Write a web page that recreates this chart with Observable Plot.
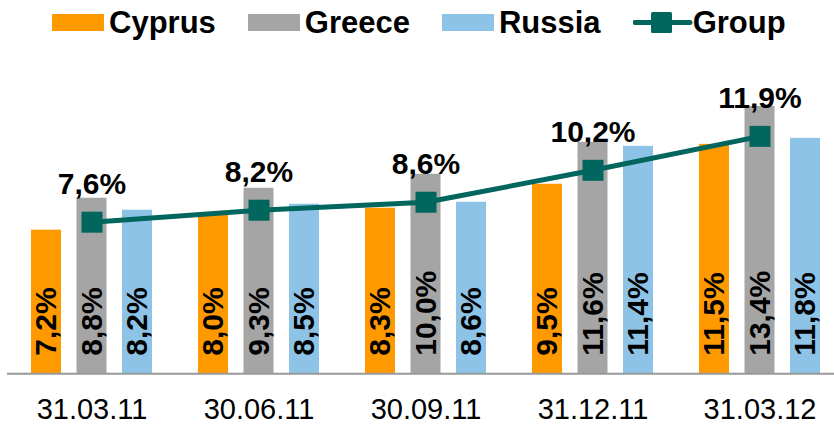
<!DOCTYPE html>
<html><head><meta charset="utf-8">
<script src="https://cdn.jsdelivr.net/npm/d3@7"></script>
<script src="https://cdn.jsdelivr.net/npm/@observablehq/plot@0.6"></script>
<style>
body{margin:0;background:#fff;font-family:"Liberation Sans",Arial,sans-serif;}
#legend{display:flex;align-items:center;height:45px;padding-left:52px;box-sizing:border-box;}
.item{display:flex;align-items:center;margin-right:32px;font-weight:bold;font-size:31px;color:#000;}
.sw{width:52px;height:17px;margin-right:5px;}
#chart svg{display:block;}
</style></head><body>
<div id="legend"></div><div id="chart"></div>
<script>
const dates = ["31.03.11", "30.06.11", "30.09.11", "31.12.11", "31.03.12"];
const cyprus = [7.2, 8.0, 8.3, 9.5, 11.5];
const greece = [8.8, 9.3, 10.0, 11.6, 13.4];
const russia = [8.2, 8.5, 8.6, 11.4, 11.8];
const group = [7.6, 8.2, 8.6, 10.2, 11.9];
const seriesNames = ["Cyprus", "Greece", "Russia"];
const seriesValues = [cyprus, greece, russia];
const seriesColors = ["#FF9900", "#A5A5A5", "#8CC3E6"];
const groupName = "Group";
const groupColor = "#00665E";

const fmt = v => v.toFixed(1).replace(".", ",") + "%";

// Legend
const legend = document.getElementById("legend");
seriesNames.forEach((name, i) => {
  const it = document.createElement("div");
  it.className = "item";
  it.innerHTML = `<div class="sw" style="background:${seriesColors[i]}"></div><span>${name}</span>`;
  legend.appendChild(it);
});
{
  const it = document.createElement("div");
  it.className = "item";
  it.innerHTML = `<svg width="60" height="21" style="display:block"><line x1="2" x2="57" y1="10.5" y2="10.5" stroke="${groupColor}" stroke-width="5" stroke-linecap="round"/><rect x="18" y="0" width="21" height="21" rx="1.5" fill="${groupColor}"/></svg><span>${groupName}</span>`;
  legend.appendChild(it);
}

// Chart
const offsets = [-45.5, 0, 45.5];
const barMarks = [];
seriesNames.forEach((name, i) => {
  const rows = dates.map((d, j) => ({date: d, value: seriesValues[i][j]}));
  barMarks.push(Plot.barY(rows, {x: "date", y: "value", fill: seriesColors[i], insetLeft: 68.5, insetRight: 68.5, dx: offsets[i]}));
  barMarks.push(Plot.text(rows, {x: "date", frameAnchor: "bottom", text: d => fmt(d.value), rotate: -90, textAnchor: "start", lineAnchor: "middle", dx: offsets[i], dy: -18, fontSize: 30, fontWeight: "bold", fill: "#000"}));
});
const groupRows = dates.map((d, j) => ({date: d, value: group[j]}));

const chart = Plot.plot({
  width: 834,
  height: 380,
  marginLeft: 7,
  marginRight: 0,
  marginTop: 9.1,
  marginBottom: 51.7,
  x: {domain: dates, range: [7.5, 842.5], padding: 0, label: null},
  y: {domain: [0, 16], range: [328.3, 9.1], axis: null},
  style: {fontFamily: '"Liberation Sans", Arial, sans-serif', background: "#fff", color: "#000"},
  marks: [
    ...barMarks,
    Plot.ruleY([0], {stroke: "#999", strokeWidth: 2}),
    Plot.axisX({tickSize: 0, tickPadding: 24.5, fontSize: 29, fill: "#000", label: null}),
    Plot.line(groupRows, {x: "date", y: "value", stroke: groupColor, strokeWidth: 5}),
    Plot.dot(groupRows, {x: "date", y: "value", symbol: "square", r: 11.85, fill: groupColor}),
    Plot.text(groupRows, {x: "date", y: "value", text: d => fmt(d.value), dy: -28, lineAnchor: "bottom", fontSize: 30, fontWeight: "bold", fill: "#000"})
  ]
});
document.getElementById("chart").appendChild(chart);
</script>
</body></html>
